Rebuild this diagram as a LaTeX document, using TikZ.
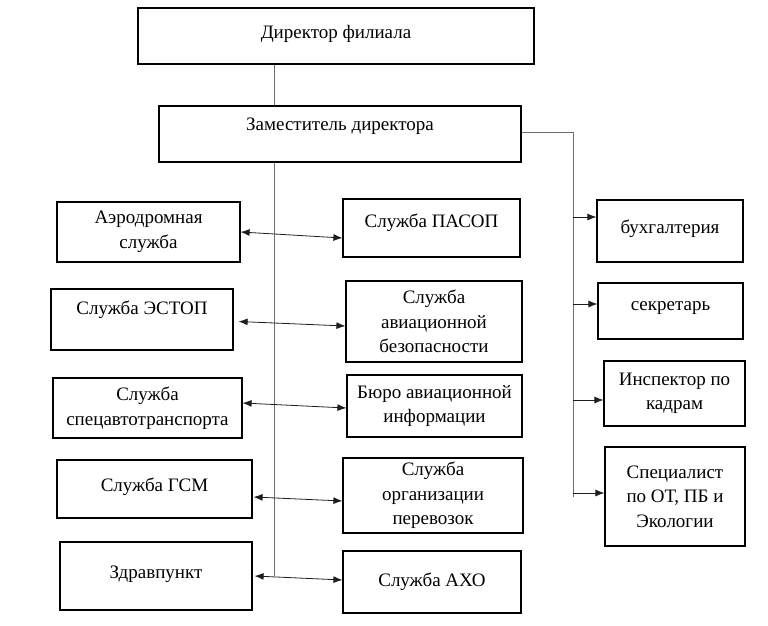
\documentclass[tikz,border=0pt]{standalone}
\usepackage{fontspec}
\setmainfont{Liberation Serif}
\usepackage{tikz}
\usetikzlibrary{calc,arrows.meta}
\definecolor{linegray}{RGB}{110, 110, 110}
\definecolor{arrowgray}{RGB}{30, 30, 30}

\begin{document}
\begin{tikzpicture}[
    x=1pt, y=-1pt,
    font=\rmfamily\fontsize{19}{24.5}\selectfont,
    box/.style={draw=black, line width=1.2pt, align=center, inner sep=2pt},
    lift/.style={text depth=#1},
    trunk/.style={draw=linegray, line width=0.7pt},
    link/.style={draw=arrowgray, line width=0.8pt, {Latex[length=9pt,width=7pt]}-{Latex[length=9pt,width=7pt]}},
    feed/.style={draw=arrowgray, line width=0.8pt, -{Latex[length=9pt,width=7pt]}}
  ]
  \useasboundingbox (0,0) rectangle (768,626);

  % management
  \node[box, lift=8pt, minimum width=396pt, minimum height=56pt] (dir) at (336,36) {Директор филиала};
  \node[box, lift=20pt, minimum width=362pt, minimum height=56pt] (dep) at (340,134) {Заместитель директора};

  % left column
  \node[box, minimum width=183pt, minimum height=60pt] (aero) at (148.5,232) {Аэродромная\\служба};
  \node[box, lift=24pt, minimum width=182pt, minimum height=61pt] (estop) at (142,319.5) {Служба ЭСТОП};
  \node[box, minimum width=189pt, minimum height=60pt] (spec) at (147.5,408) {Служба\\спецавтотранспорта};
  \node[box, lift=8pt, minimum width=195pt, minimum height=58pt] (gsm) at (154.5,489) {Служба ГСМ};
  \node[box, lift=8pt, minimum width=192pt, minimum height=68pt] (zdrav) at (156,576) {Здравпункт};

  % middle column
  \node[box, lift=14pt, minimum width=177pt, minimum height=58pt] (pasop) at (431.5,228) {Служба ПАСОП};
  \node[box, minimum width=176pt, minimum height=81pt] (avsec) at (434,321.5) {Служба\\авиационной\\безопасности};
  \node[box, minimum width=175pt, minimum height=62pt] (bai) at (434.5,406) {Бюро авиационной\\информации};
  \node[box, minimum width=180pt, minimum height=75pt] (sop) at (433,495.5) {Служба\\организации\\перевозок};
  \node[box, minimum width=178pt, minimum height=62pt] (aho) at (432,582) {Служба АХО};

  % right column
  \node[box, lift=8pt, minimum width=146pt, minimum height=62pt] (buh) at (670,231) {бухгалтерия};
  \node[box, lift=10pt, minimum width=145pt, minimum height=56pt] (secr) at (670.5,311) {секретарь};
  \node[box, minimum width=141pt, minimum height=65pt] (insp) at (674.5,393.5) {Инспектор по\\кадрам};
  \node[box, minimum width=140pt, minimum height=99pt] (ot) at (675,496.5) {Специалист\\по ОТ, ПБ и\\Экологии};

  % trunk lines
  \coordinate (tbot) at (274,576);
  \coordinate (rbot) at (573,497);
  \draw[trunk] (dir.south -| tbot) -- (dep.north -| tbot);
  \draw[trunk] (dep.south -| tbot) -- (tbot);
  \draw[trunk] ([yshift=2pt]dep.east) -| (rbot);

  % links between services
  \draw[link] (aero.east) -- ([yshift=-10pt]pasop.west);
  \draw[link] ([xshift=5pt,yshift=-2pt]estop.east) -- ([yshift=-4.5pt]avsec.west);
  \draw[link] ([yshift=5pt]spec.east) -- ([yshift=-2pt]bai.west);
  \draw[link] ([xshift=1pt,yshift=-8pt]gsm.east) -- ([yshift=-5.5pt]sop.west);
  \draw[link] ([xshift=2pt]zdrav.east) -- ([yshift=2pt]aho.west);

  % feeds to staff
  \coordinate (f1) at ([yshift=14pt]buh.west);
  \coordinate (f2) at ([yshift=7pt]secr.west);
  \coordinate (f3) at ([yshift=-6.5pt]insp.west);
  \coordinate (f4) at ([yshift=3.5pt]ot.west);
  \draw[feed] (f1 -| rbot) -- (f1);
  \draw[feed] (f2 -| rbot) -- (f2);
  \draw[feed] (f3 -| rbot) -- (f3);
  \draw[feed] (f4 -| rbot) -- (f4);
\end{tikzpicture}
\end{document}
